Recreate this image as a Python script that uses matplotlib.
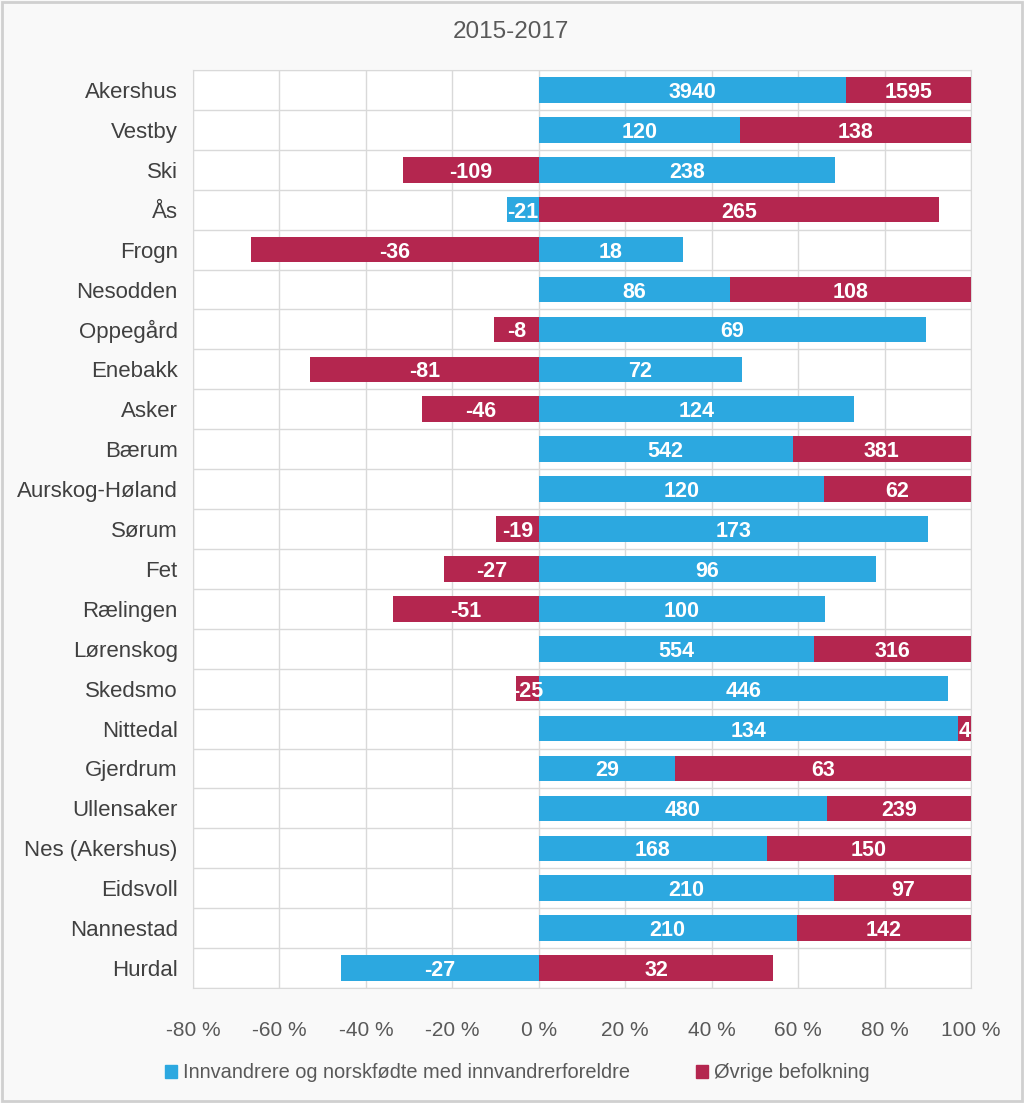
import numpy as np
import matplotlib.pyplot as plt
from matplotlib.patches import Rectangle

# Data (absolute counts)
kommuner = ['Akershus', 'Vestby', 'Ski', 'Ås', 'Frogn', 'Nesodden', 'Oppegård',
            'Enebakk', 'Asker', 'Bærum', 'Aurskog-Høland', 'Sørum', 'Fet',
            'Rælingen', 'Lørenskog', 'Skedsmo', 'Nittedal', 'Gjerdrum',
            'Ullensaker', 'Nes (Akershus)', 'Eidsvoll', 'Nannestad', 'Hurdal']
innvandrere = [3940, 120, 238, -21, 18, 86, 69, 72, 124, 542, 120, 173, 96,
               100, 554, 446, 134, 29, 480, 168, 210, 210, -27]
ovrige = [1595, 138, -109, 265, -36, 108, -8, -81, -46, 381, 62, -19, -27,
          -51, 316, -25, 4, 63, 239, 150, 97, 142, 32]
xticks = [-80, -60, -40, -20, 0, 20, 40, 60, 80, 100]

blue = '#2ca8e0'
red = '#b4264f'

inn = np.array(innvandrere, dtype=float)
ovr = np.array(ovrige, dtype=float)
total = np.abs(inn) + np.abs(ovr)
inn_pct = inn / total * 100
ovr_pct = ovr / total * 100

plt.rcParams['font.family'] = ['Liberation Sans', 'DejaVu Sans']

fig = plt.figure(figsize=(10.24, 11.03), dpi=100)
fig.patch.set_facecolor('#f9f9f9')
fig.patches.append(Rectangle((0.002, 0.002), 0.996, 0.996, transform=fig.transFigure,
                             fill=False, edgecolor='#d0d0d0', linewidth=2))
ax = fig.add_axes([193 / 1024, 1 - 988 / 1103, (971 - 193) / 1024, (988 - 70) / 1103])
ax.set_facecolor('white')

y = np.arange(len(kommuner))
h = 0.64

# stacking like excel: positives stack right from 0, negatives stack left
pos_base = np.zeros(len(inn))
neg_base = np.zeros(len(inn))
for vals, raw, color in [(inn_pct, innvandrere, blue), (ovr_pct, ovrige, red)]:
    left = np.where(vals >= 0, pos_base, neg_base + vals)
    ax.barh(y, np.abs(vals), left=left, height=h, color=color, zorder=3)
    for i, v in enumerate(vals):
        cx = left[i] + abs(v) / 2
        ax.text(cx, y[i], str(raw[i]), ha='center', va='center_baseline', color='white',
                fontsize=15.5, fontweight='bold', zorder=4)
    pos_base = pos_base + np.where(vals >= 0, vals, 0)
    neg_base = neg_base + np.where(vals < 0, vals, 0)

ax.set_xlim(-80, 100)
ax.set_ylim(len(kommuner) - 0.5, -0.5)
ax.set_xticks(xticks)
ax.set_xticklabels([f'{t} %' for t in xticks])
ax.set_yticks(y)
ax.set_yticklabels(kommuner)
ax.set_yticks(np.arange(-0.5, len(kommuner), 1), minor=True)
ax.grid(True, axis='x', which='major', color='#d9d9d9', linewidth=1, zorder=0)
ax.grid(True, axis='y', which='minor', color='#d9d9d9', linewidth=1, zorder=0)
ax.tick_params(axis='both', which='both', length=0)
ax.tick_params(axis='y', labelsize=16, labelcolor='#404040', pad=11)
ax.tick_params(axis='x', labelsize=15, labelcolor='#595959', pad=24)
for s in ax.spines.values():
    s.set_color('#d9d9d9')

fig.text(511 / 1024, 1 - 32 / 1103, '2015-2017', ha='center', va='center',
         fontsize=17.5, color='#595959')

handles = [Rectangle((0, 0), 1, 1, color=blue), Rectangle((0, 0), 1, 1, color=red)]
fig.legend(handles, ['Innvandrere og norskfødte med innvandrerforeldre', 'Øvrige befolkning'],
           loc='center', bbox_to_anchor=(517 / 1024, 1 - 1073 / 1103), ncol=2,
           frameon=False, fontsize=14.4, handlelength=0.6, handleheight=0.6,
           handletextpad=0.3, columnspacing=3.3, labelcolor='#595959')

fig.savefig('out.png', dpi=100, facecolor=fig.get_facecolor())
